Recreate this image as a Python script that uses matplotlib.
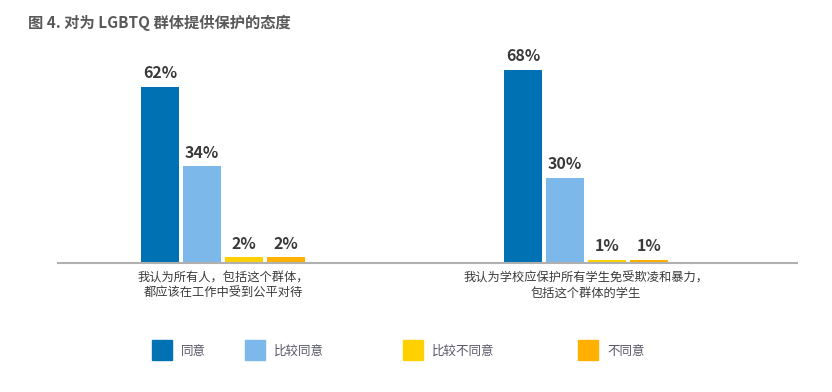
import matplotlib.pyplot as plt
from matplotlib.patches import Rectangle

plt.rcParams['font.family'] = ['Noto Sans CJK SC', 'DejaVu Sans']

# data
categories = ["我认为所有人，包括这个群体，\n都应该在工作中受到公平对待",
              "我认为学校应保护所有学生免受欺凌和暴力，\n包括这个群体的学生"]
series = ["同意", "比较同意", "比较不同意", "不同意"]
values = [[62, 68], [34, 30], [2, 1], [2, 1]]
colors = ["#0071B3", "#7DB8EA", "#FFD100", "#FFB000"]

fig = plt.figure(figsize=(8.32, 3.92), dpi=100)
ax = fig.add_axes([58 / 832, 129 / 392, 739 / 832, 223 / 392])

centers = [0, 363 / 42]
for i, (name, vals) in enumerate(zip(series, values)):
    xs = [c + (i - 1.5) for c in centers]
    bars = ax.bar(xs, vals, width=0.9, color=colors[i], label=name)
    for b, v in zip(bars, vals):
        ax.text(b.get_x() + b.get_width() / 2, v + 2.0, f"{v}%",
                ha='center', va='bottom', fontsize=11.5, fontweight='bold',
                color='#3a3a3a')

ax.set_xlim((58 - 223) / 42, (797 - 223) / 42)
ax.set_ylim(0, 223 / 2.84)
for s in ['top', 'right', 'left']:
    ax.spines[s].set_visible(False)
ax.spines['bottom'].set_color('#b0b0b0')
ax.spines['bottom'].set_linewidth(1.5)
ax.set_yticks([])
ax.set_xticks(centers)
ax.set_xticklabels(categories, fontsize=8.8, color='#3a3a3a', linespacing=1.2)
ax.tick_params(axis='x', length=0, pad=6)

# title
fig.text(28 / 832, 1 - 23 / 392, "图 4. 对为 LGBTQ 群体提供保护的态度",
         fontsize=11, fontweight='bold', color='#595959', va='center')

# legend
leg_x = [152, 245, 403, 578]
for x, name, c in zip(leg_x, series, colors):
    fig.patches.append(Rectangle((x / 832, 1 - 360 / 392), 20 / 832, 20 / 392,
                                 transform=fig.transFigure, color=c))
    fig.text((x + 29) / 832, 1 - 351 / 392, name, fontsize=9,
             color='#555566', va='center')

fig.savefig("out.png", dpi=100)
